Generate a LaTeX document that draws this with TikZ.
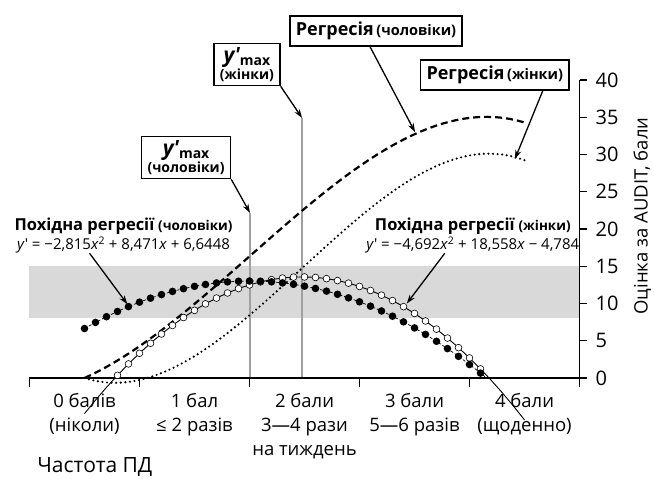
\documentclass[tikz,border=0pt]{standalone}
\usepackage{fontspec}
\setmainfont{Open Sans}
\usetikzlibrary{arrows.meta,positioning,calc}
\definecolor{band}{HTML}{D9D9D9}
\definecolor{guide}{HTML}{A0A0A0}

\begin{document}
\begin{tikzpicture}[x=110pt,y=7.45pt,
  box/.style={draw,line width=1.4pt,fill=white,inner xsep=6pt,inner ysep=6pt,font=\bfseries},
  arr/.style={line width=1.3pt,-{Stealth[length=9pt,width=6pt]}},
  lbl/.style={font=\fontsize{18.5}{24}\selectfont,align=center,inner sep=0pt},
  eq/.style={font=\fontsize{15}{19}\selectfont,align=center,inner sep=0pt},
  fdot/.style={fill=black},
  odot/.style={draw=black,fill=white,line width=0.6pt},
  vline/.style={draw=guide,line width=1.2pt}]
\useasboundingbox (-84.5pt,-101pt) rectangle (569.5pt,378pt);
% grey band 8..15
\fill[band] (-0.5,8) rectangle (4.5,15);
% tips of arrows
\coordinate (ymaxMtop) at (1.5046,22.15);
\coordinate (ymaxWtop) at (1.978,34.9);
\coordinate (regMtip) at (3.005,33.0);
\coordinate (regWtip) at (3.913,29.4);
\coordinate (derMtip) at (0.39,9.9);
\coordinate (derWtip) at (2.93,10.0);
\draw[vline] (ymaxMtop) -- (ymaxMtop |- 0,0);
\draw[vline] (ymaxWtop) -- (ymaxWtop |- 0,0);
% axes
\draw[line width=1.3pt] (-0.5,0) -- (4.5,0) -- (4.5,40);
\foreach \k in {-0.5,0.5,...,4.5} \draw[line width=1.3pt] (\k,0) -- ++(0,-9pt);
\foreach \v in {0,5,...,40} {
  \draw[line width=1.3pt] (4.5,\v) -- ++(7pt,0);
  \node[lbl,anchor=west,font=\fontsize{20}{22}\selectfont] (t\v) at ([xshift=16pt]4.5,\v) {\v};
}
\node[lbl,rotate=90,font=\fontsize{18.5}{22}\selectfont] (ylab) at (5.07,21.74) {Оцінка за AUDIT, бали};
\foreach \i/\txt in {0/{0 балів\\(ніколи)},1/{1 бал\\≤ 2 разів},2/{2 бали\\3—4 рази\\на тиждень},
  3/{3 бали\\5—6 разів},4/{4 бали\\(щоденно)}}
  \node[lbl,anchor=north] (c\i) at (\i,-2.0) {\txt};
\node[lbl,anchor=base west,font=\fontsize{21}{24}\selectfont] (freq) at (-0.43,-12.75) {Частота ПД};
% regressions
\draw[line width=2.2pt,dash pattern=on 7pt off 4pt] plot[domain=0:4,samples=60] (\x,{-0.9383*\x^3+4.2355*\x^2+6.6448*\x});
\draw[line width=2.4pt,line cap=round,dash pattern=on 0pt off 4.6pt] plot[domain=0:4,samples=60] (\x,{-1.564*\x^3+9.279*\x^2-4.784*\x});
% derivatives
\draw[line width=0.7pt,dash pattern=on 3pt off 2pt] plot[domain=0:3.655,samples=40] (\x,{-2.815*\x^2+8.471*\x+6.6448});
\draw[line width=0.9pt] plot[domain=0:4,samples=40] (\x,{-4.692*\x^2+18.558*\x-4.784});
\foreach \i in {3,...,36} \filldraw[odot] ({\i/10},{-4.692*(\i/10)^2+18.558*\i/10-4.784}) circle[radius=3.4pt];
\foreach \i in {0,...,36} \fill[fdot] ({\i/10},{-2.815*(\i/10)^2+8.471*\i/10+6.6448}) circle[radius=3.8pt];
% labels
\node[eq] (derM) at (0.355,19.13) {{\fontsize{16.5}{19}\selectfont\bfseries Похідна регресії} {\fontsize{13.5}{19}\selectfont\bfseries (чоловіки)}\\
  \textit{y}\textquotesingle{} = −2,815\textit{x}\textsuperscript{2} + 8,471\textit{x} + 6,6448};
\node[eq] (derW) at (3.53,19.13) {{\fontsize{16.5}{19}\selectfont\bfseries Похідна регресії} {\fontsize{13.5}{19}\selectfont\bfseries (жінки)}\\
  \textit{y}\textquotesingle{} = −4,692\textit{x}\textsuperscript{2} + 18,558\textit{x} − 4,784};
\node[box] (regM) at (2.65,46.58) {{\fontsize{18}{20}\selectfont Регресія} {\fontsize{14.5}{20}\selectfont (чоловіки)}};
\node[box] (regW) at (3.73,40.67) {{\fontsize{18}{20}\selectfont Регресія} {\fontsize{14.5}{20}\selectfont (жінки)}};
\node[box,align=center,inner ysep=4pt,font=\fontsize{14}{17}\selectfont\bfseries] (ymaxW) at (1.477,42.08)
  {{\fontsize{21}{21}\selectfont\itshape y\textquotesingle}\raisebox{-3pt}{max}\\(жінки)};
\node[box,align=center,inner ysep=4pt,font=\fontsize{14}{17}\selectfont\bfseries] (ymaxM) at (0.923,29.6)
  {{\fontsize{21}{21}\selectfont\itshape y\textquotesingle}\raisebox{-3pt}{max}\\(чоловіки)};
% arrows
\draw[arr] ([xshift=-6pt]regM.south) -- (regMtip);
\draw[arr] ([xshift=48pt]regW.south) -- (regWtip);
\draw[arr] (ymaxW.south east) -- (ymaxWtop);
\draw[arr] (ymaxM.south east) -- (ymaxMtop);
\draw[arr] ([xshift=-34pt]derM.south) -- (derMtip);
\draw[arr] ([xshift=-28pt]derW.south) -- (derWtip);
\end{tikzpicture}
\end{document}
